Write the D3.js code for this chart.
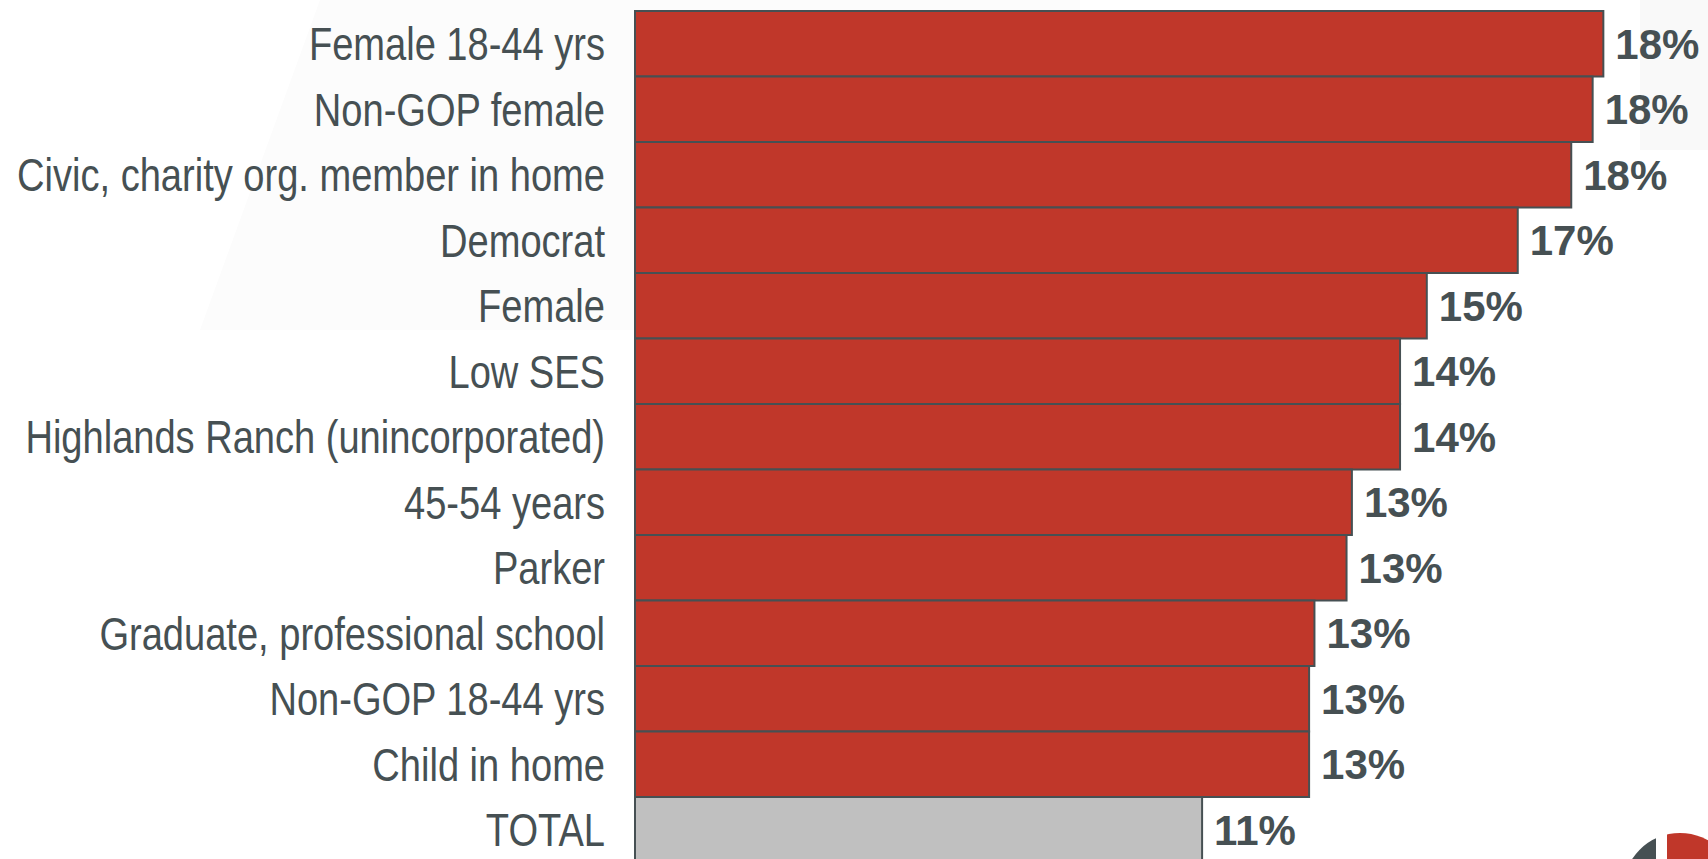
<!DOCTYPE html>
<html>
<head>
<meta charset="utf-8">
<script src="https://cdn.jsdelivr.net/npm/d3@7/dist/d3.min.js"></script>
<style>
  html, body { margin: 0; padding: 0; background: #fff; }
  svg { display: block; }
</style>
</head>
<body>
<svg id="chart"></svg>
<script>
const categories = [
  "Female 18-44 yrs",
  "Non-GOP female",
  "Civic, charity org. member in home",
  "Democrat",
  "Female",
  "Low SES",
  "Highlands Ranch (unincorporated)",
  "45-54 years",
  "Parker",
  "Graduate, professional school",
  "Non-GOP 18-44 yrs",
  "Child in home",
  "TOTAL"
];
const values = [18.1, 17.9, 17.5, 16.5, 14.8, 14.3, 14.3, 13.4, 13.3, 12.7, 12.6, 12.6, 10.6];
const highlight = ["TOTAL"];

const width = 1708;
const height = 859;
const red = "#c0372a";
const grey = "#c0c0c0";
const ink = "#465053";

const svg = d3.select("#chart").attr("width", width).attr("height", height);

// very faint watermark shapes in the background
svg.append("path")
  .attr("d", "M 320 0 L 1080 0 L 1080 330 L 200 330 Z")
  .attr("fill", "#fcfcfc");
svg.append("rect")
  .attr("x", 1640).attr("y", 0).attr("width", 68).attr("height", 150)
  .attr("fill", "#f9f9f9");

const x = d3.scaleLinear().domain([0, 20]).range([635, 1705]);
const y = d3.scaleBand().domain(categories).range([11, 862.5]).padding(0);

// category labels (narrow face imitated with a horizontal squeeze)
svg.append("g")
  .selectAll("text")
  .data(categories)
  .join("text")
  .attr("transform", d => `translate(605,${y(d) + y.bandwidth() / 2}) scale(0.81,1)`)
  .attr("dy", "0.35em")
  .attr("text-anchor", "end")
  .attr("font-family", "'Liberation Sans', Arial, sans-serif")
  .attr("font-size", 47)
  .attr("fill", ink)
  .text(d => d);

// bars
svg.append("g")
  .selectAll("rect")
  .data(categories)
  .join("rect")
  .attr("x", x(0))
  .attr("y", d => y(d))
  .attr("width", (d, i) => x(values[i]) - x(0))
  .attr("height", y.bandwidth())
  .attr("fill", d => highlight.includes(d) ? grey : red)
  .attr("stroke", ink)
  .attr("stroke-width", 2);

// value labels
svg.append("g")
  .selectAll("text")
  .data(categories)
  .join("text")
  .attr("x", (d, i) => x(values[i]) + 12)
  .attr("y", d => y(d) + y.bandwidth() / 2)
  .attr("dy", "0.36em")
  .attr("font-family", "'Liberation Sans', Arial, sans-serif")
  .attr("font-weight", "bold")
  .attr("font-size", 42)
  .attr("fill", ink)
  .text((d, i) => Math.round(values[i]) + "%");

// logo peeking in at the bottom right corner
svg.append("clipPath")
  .attr("id", "logo-clip")
  .append("circle")
  .attr("cx", 1680).attr("cy", 890).attr("r", 57);
const logo = svg.append("g").attr("clip-path", "url(#logo-clip)");
logo.append("rect")
  .attr("x", 1620).attr("y", 830).attr("width", 36).attr("height", 40)
  .attr("fill", ink);
logo.append("rect")
  .attr("x", 1667).attr("y", 830).attr("width", 80).attr("height", 40)
  .attr("fill", red);
</script>
</body>
</html>
